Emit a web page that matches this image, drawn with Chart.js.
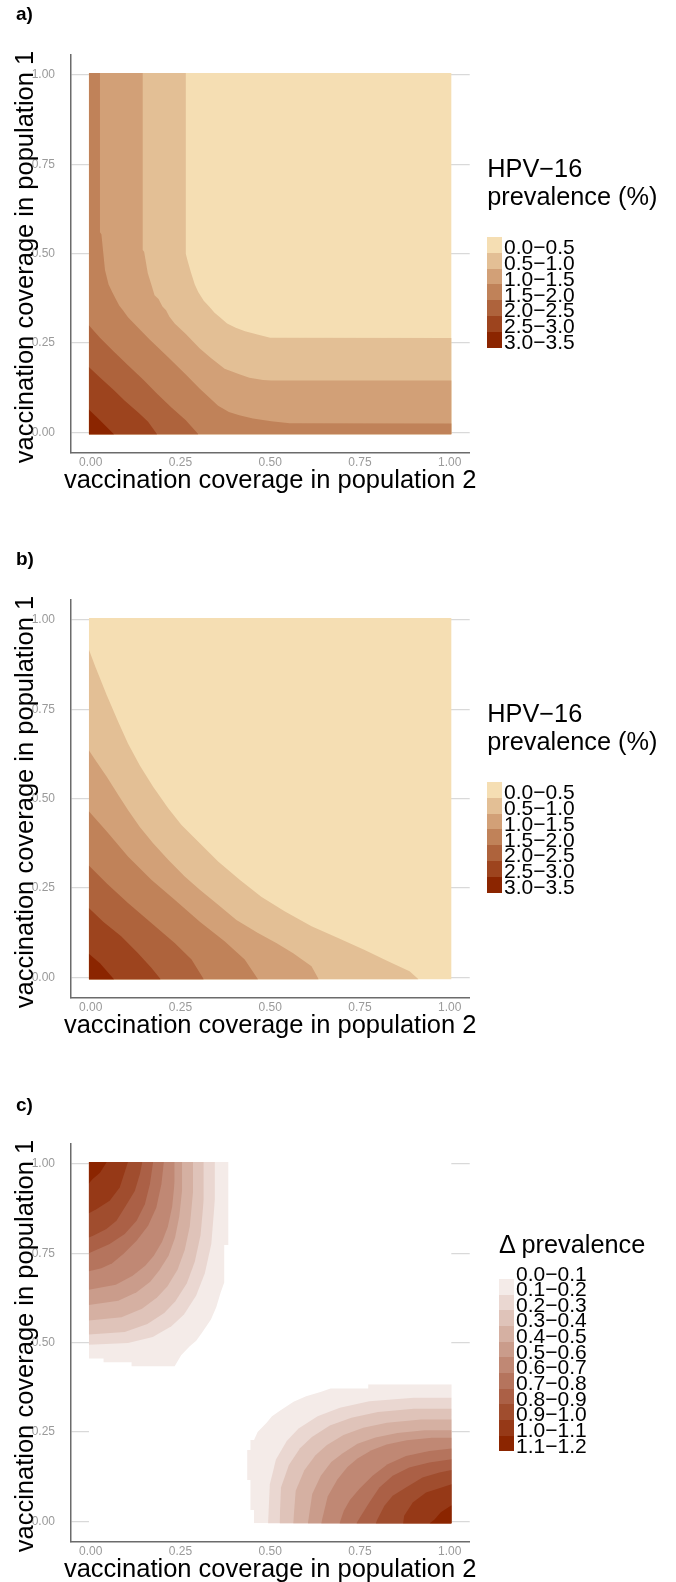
<!DOCTYPE html>
<html><head><meta charset="utf-8">
<script src="https://cdn.jsdelivr.net/npm/chart.js@4.4.1/dist/chart.umd.min.js"></script>
<style>
html,body{margin:0;padding:0;background:#fff;width:676px;height:1582px;overflow:hidden;font-family:'Liberation Sans',Arial,sans-serif;}
.panel{position:absolute;left:0;width:676px;height:545px;}
.panel canvas{position:absolute;left:0;top:0;}
.plab{position:absolute;left:16px;font-weight:bold;font-size:19px;line-height:20px;color:#000;}
.ltitle{position:absolute;font-size:25.3px;line-height:28.3px;white-space:nowrap;color:#000;}
.atitle{position:absolute;width:600px;height:30px;font-size:25.5px;line-height:30px;text-align:center;white-space:nowrap;color:#000;}
.key{position:absolute;}
.klab{position:absolute;font-size:21px;line-height:15.7px;white-space:nowrap;color:#000;}
</style>
</head><body>
<div id="root"></div>
<script>
// ---------- legend / axis text ----------
const tickValues = [0, 0.25, 0.5, 0.75, 1.0];
const tickLabels = ["0.00", "0.25", "0.50", "0.75", "1.00"];
const xTitle = "vaccination coverage in population 2";
const yTitle = "vaccination coverage in population 1";
const prevTitle = ["HPV\u221216", "prevalence (%)"];
const deltaTitle = ["\u0394 prevalence"];
const prevLabels = ["0.0\u22120.5","0.5\u22121.0","1.0\u22121.5","1.5\u22122.0","2.0\u22122.5","2.5\u22123.0","3.0\u22123.5"];
const prevColors = ["#f5deb3","#e3bf95","#d2a077","#c08259","#ae633c","#9d441e","#8b2500"];
const deltaLabels = ["0.0\u22120.1","0.1\u22120.2","0.2\u22120.3","0.3\u22120.4","0.4\u22120.5","0.5\u22120.6","0.6\u22120.7","0.7\u22120.8","0.8\u22120.9","0.9\u22121.0","1.0\u22121.1","1.1\u22121.2"];
const deltaColors = ["#ffffff","#f4ebe8","#ead7d1","#dfc3b9","#d5b0a2","#ca9c8b","#c08874","#b5745d","#ab6046","#a04d2e","#963917","#8b2500"];

// ---------- panel a: upper boundary of region with prevalence above each class break ----------
const aBand0 = [[-0.005,1.005],[1.005,1.005]];
const aBand1 = [[-0.005,1.005],[0.265,1.005],[0.265,0.50],[0.27,0.48],[0.28,0.445],[0.29,0.414],[0.30,0.392],[0.315,0.368],[0.33,0.352],[0.345,0.335],[0.36,0.322],[0.38,0.305],[0.404,0.293],[0.43,0.283],[0.467,0.273],[0.50,0.265],[1.005,0.264]];
const aBand2 = [[-0.005,1.005],[0.145,1.005],[0.145,0.51],[0.149,0.505],[0.159,0.446],[0.169,0.414],[0.178,0.384],[0.189,0.373],[0.20,0.352],[0.21,0.342],[0.219,0.324],[0.234,0.305],[0.265,0.275],[0.304,0.235],[0.335,0.208],[0.373,0.178],[0.414,0.163],[0.442,0.153],[0.48,0.147],[0.503,0.145],[1.005,0.145]];
const aBand3 = [[-0.005,1.005],[0.026,1.005],[0.026,0.56],[0.03,0.554],[0.04,0.454],[0.05,0.414],[0.06,0.393],[0.07,0.373],[0.08,0.354],[0.09,0.342],[0.104,0.322],[0.135,0.29],[0.165,0.259],[0.216,0.21],[0.265,0.162],[0.304,0.122],[0.334,0.094],[0.355,0.075],[0.385,0.057],[0.414,0.048],[0.452,0.039],[0.503,0.031],[0.554,0.026],[1.005,0.025]];
const aBand4 = [[-0.005,0.30],[0.026,0.265],[0.065,0.226],[0.104,0.188],[0.146,0.148],[0.185,0.108],[0.225,0.07],[0.265,0.034],[0.30,-0.005]];
const aBand5 = [[-0.005,0.183],[0.026,0.154],[0.065,0.118],[0.095,0.089],[0.135,0.054],[0.16,0.03],[0.185,-0.005]];
const aBand6 = [[-0.005,0.064],[0.026,0.034],[0.065,-0.005]];

// ---------- panel b ----------
const bBand0 = [[-0.005,1.005],[1.005,1.005]];
const bBand1 = [[-0.005,0.917],[0.014,0.867],[0.045,0.789],[0.077,0.714],[0.104,0.654],[0.137,0.593],[0.174,0.533],[0.216,0.473],[0.253,0.426],[0.304,0.375],[0.355,0.324],[0.415,0.273],[0.475,0.226],[0.540,0.185],[0.615,0.143],[0.689,0.110],[0.763,0.077],[0.828,0.045],[0.888,0.017],[0.913,-0.005]];
const bBand2 = [[-0.005,0.635],[0.014,0.607],[0.045,0.561],[0.077,0.510],[0.104,0.468],[0.137,0.421],[0.174,0.375],[0.216,0.329],[0.262,0.282],[0.304,0.245],[0.355,0.203],[0.406,0.161],[0.466,0.124],[0.517,0.096],[0.564,0.068],[0.615,0.031],[0.635,-0.005]];
const bBand3 = [[-0.005,0.465],[0.045,0.408],[0.104,0.338],[0.169,0.273],[0.234,0.217],[0.304,0.156],[0.373,0.101],[0.429,0.050],[0.466,-0.005]];
const bBand4 = [[-0.005,0.313],[0.045,0.263],[0.104,0.208],[0.169,0.152],[0.234,0.096],[0.281,0.050],[0.315,-0.005]];
const bBand5 = [[-0.005,0.194],[0.035,0.156],[0.085,0.115],[0.132,0.068],[0.169,0.027],[0.195,-0.005]];
const bBand6 = [[-0.005,0.066],[0.026,0.040],[0.065,-0.005]];

// ---------- panel c: background class and top-left blob (lower edge of each class) ----------
const cBand0 = [[-0.005,1.005],[1.005,1.005]];
const cTL1 = [[-0.005,0.456],[0.036,0.456],[0.036,0.445],[0.114,0.445],[0.114,0.434],[0.234,0.434],[0.252,0.465],[0.276,0.49],[0.294,0.505],[0.31,0.528],[0.335,0.565],[0.35,0.60],[0.362,0.64],[0.372,0.668],[0.372,0.773],[0.384,0.773],[0.384,1.005]];
const cTL2 = [[-0.005,0.494],[0.104,0.499],[0.173,0.516],[0.225,0.546],[0.26,0.579],[0.294,0.632],[0.318,0.694],[0.336,0.776],[0.346,0.9],[0.346,1.005]];
const cTL3 = [[-0.005,0.523],[0.095,0.53],[0.158,0.552],[0.205,0.583],[0.236,0.616],[0.268,0.666],[0.29,0.726],[0.306,0.80],[0.315,0.9],[0.315,1.005]];
const cTL4 = [[-0.005,0.562],[0.086,0.571],[0.143,0.595],[0.185,0.626],[0.214,0.658],[0.242,0.704],[0.262,0.759],[0.276,0.825],[0.285,0.92],[0.285,1.005]];
const cTL5 = [[-0.005,0.605],[0.077,0.617],[0.128,0.641],[0.166,0.67],[0.191,0.702],[0.217,0.743],[0.235,0.793],[0.247,0.854],[0.255,0.93],[0.255,1.005]];
const cTL6 = [[-0.005,0.648],[0.07,0.662],[0.117,0.687],[0.152,0.715],[0.176,0.743],[0.199,0.782],[0.215,0.824],[0.227,0.88],[0.234,0.95],[0.234,1.005]];
const cTL7 = [[-0.005,0.70],[0.03,0.708],[0.06,0.722],[0.091,0.748],[0.128,0.785],[0.16,0.827],[0.183,0.878],[0.197,0.943],[0.204,1.005]];
const cTL8 = [[-0.005,0.75],[0.053,0.776],[0.095,0.804],[0.128,0.841],[0.151,0.887],[0.165,0.943],[0.174,1.005]];
const cTL9 = [[-0.005,0.794],[0.007,0.799],[0.044,0.818],[0.072,0.841],[0.095,0.878],[0.123,0.924],[0.137,0.971],[0.144,1.005]];
const cTL10 = [[-0.005,0.862],[0.016,0.873],[0.053,0.897],[0.081,0.934],[0.104,1.005]];
const cTL11 = [[-0.005,0.945],[0.005,0.957],[0.026,0.975],[0.045,1.005]];
// ---------- panel c: bottom-right blob (left edge of outer class, upper edge of inner classes) ----------
const cBR1 = [[0.455,-0.005],[0.455,0.032],[0.445,0.032],[0.445,0.116],[0.436,0.116],[0.436,0.2],[0.445,0.2],[0.445,0.228],[0.455,0.228],[0.465,0.25],[0.49,0.276],[0.505,0.294],[0.528,0.31],[0.565,0.335],[0.60,0.35],[0.64,0.362],[0.668,0.372],[0.773,0.372],[0.773,0.384],[1.005,0.384]];
const cBR2 = [[0.494,-0.005],[0.499,0.104],[0.516,0.173],[0.546,0.225],[0.579,0.26],[0.632,0.294],[0.694,0.318],[0.776,0.336],[0.9,0.346],[1.005,0.346]];
const cBR3 = [[0.526,-0.005],[0.53,0.095],[0.552,0.158],[0.583,0.205],[0.616,0.236],[0.666,0.268],[0.726,0.29],[0.80,0.306],[0.9,0.315],[1.005,0.315]];
const cBR4 = [[0.564,-0.005],[0.571,0.086],[0.595,0.143],[0.626,0.185],[0.658,0.214],[0.704,0.242],[0.759,0.262],[0.825,0.276],[0.92,0.285],[1.005,0.285]];
const cBR5 = [[0.605,-0.005],[0.617,0.077],[0.641,0.128],[0.67,0.166],[0.702,0.191],[0.743,0.217],[0.793,0.235],[0.854,0.247],[0.93,0.255],[1.005,0.255]];
const cBR6 = [[0.642,-0.005],[0.66,0.07],[0.687,0.117],[0.715,0.152],[0.743,0.176],[0.782,0.199],[0.824,0.215],[0.88,0.227],[0.95,0.234],[1.005,0.234]];
const cBR7 = [[0.693,-0.005],[0.705,0.03],[0.722,0.06],[0.748,0.091],[0.785,0.128],[0.827,0.16],[0.878,0.183],[0.943,0.197],[1.005,0.204]];
const cBR8 = [[0.74,-0.005],[0.776,0.053],[0.804,0.095],[0.841,0.128],[0.887,0.151],[0.943,0.165],[1.005,0.174]];
const cBR9 = [[0.794,-0.005],[0.799,0.007],[0.818,0.044],[0.841,0.072],[0.878,0.095],[0.924,0.123],[0.971,0.137],[1.005,0.144]];
const cBR10 = [[0.87,-0.005],[0.873,0.016],[0.897,0.053],[0.934,0.081],[1.005,0.104]];
const cBR11 = [[0.944,-0.005],[0.957,0.005],[0.975,0.026],[1.005,0.045]];

// ---------- building ----------
const LO = -0.005, HI = 1.005;
function band(points, color, base, order, alongY) {
  const d = {
    data: points.map(p => ({x: p[0], y: p[1]})),
    showLine: true, tension: 0, pointRadius: 0, pointHoverRadius: 0,
    borderWidth: 0, borderColor: 'rgba(0,0,0,0)',
    backgroundColor: color, fill: {value: base}, order: order
  };
  if (alongY) d.indexAxis = 'y';
  return d;
}
function makeChart(canvas, datasets) {
  const fontFam = "'Liberation Sans', Arial, sans-serif";
  return new Chart(canvas, {
    type: 'scatter',
    data: {datasets},
    options: {
      responsive: false, animation: false, events: [],
      layout: {padding: {top: 55, right: 206.3, bottom: 51.2, left: 0}},
      plugins: {legend: {display: false}, tooltip: {enabled: false}},
      scales: {
        x: {
          type: 'linear', min: -0.0555, max: 1.0555,
          afterBuildTicks: s => { s.ticks = tickValues.map(v => ({value: v})); },
          afterFit: s => { s.height = 41.5; },
          grid: {display: false, drawTicks: false},
          border: {display: true, color: '#6b6b6b', width: 1.5},
          ticks: {padding: 3.5, color: '#9a9a9a', font: {family: fontFam, size: 12}, maxRotation: 0, autoSkip: false,
                  callback: (v, i) => tickLabels[i]},
          title: {display: false}
        },
        y: {
          type: 'linear', min: -0.0555, max: 1.0555,
          afterBuildTicks: s => { s.ticks = tickValues.map(v => ({value: v})); },
          afterFit: s => { s.width = 70.7; },
          grid: {display: true, drawTicks: false, color: '#d9d9d9', lineWidth: 1.2},
          border: {display: true, color: '#6b6b6b', width: 1.5},
          ticks: {padding: 15.7, color: '#9a9a9a', font: {family: fontFam, size: 12}, autoSkip: false,
                  callback: (v, i) => tickLabels[i]},
          title: {display: false}
        }
      }
    }
  });
}
function addDiv(parent, cls, text, styles) {
  const d = document.createElement('div');
  d.className = cls;
  if (text !== null) d.textContent = text;
  Object.assign(d.style, styles);
  parent.appendChild(d);
  return d;
}
function makePanel(top, label, datasets, titleLines, labels, colors, lg) {
  const root = document.getElementById('root');
  const p = addDiv(root, 'panel', null, {top: top + 'px'});
  const cv = document.createElement('canvas');
  cv.width = 676; cv.height = 545;
  p.appendChild(cv);
  addDiv(p, 'plab', label, {top: lg.labTop + 'px'});
  // axis titles
  addDiv(p, 'atitle', xTitle, {left: (270.2 - 300) + 'px', top: '463.5px'});
  addDiv(p, 'atitle', yTitle, {left: (24.2 - 300) + 'px', top: (257.0 - 15) + 'px', transform: 'rotate(-90deg)', transformOrigin: '300px 15px'});
  const t = addDiv(p, 'ltitle', null, {left: lg.x + 'px', top: lg.titleTop + 'px'});
  t.innerHTML = titleLines.join('<br>');
  labels.forEach((txt, i) => {
    addDiv(p, 'key', null, {left: lg.x + 'px', top: (lg.keyTop + i * lg.keyH) + 'px',
      width: lg.keyW + 'px', height: (lg.keyH + 0.3) + 'px', background: colors[i]});
    addDiv(p, 'klab', txt, {left: (lg.x + lg.keyW + 2) + 'px', top: (lg.keyTop + i * lg.keyH + 2.1) + 'px',
      lineHeight: lg.keyH + 'px'});
  });
  makeChart(cv, datasets);
}

const aSets = [aBand0, aBand1, aBand2, aBand3, aBand4, aBand5, aBand6]
  .map((b, k) => band(b, prevColors[k], LO, 10 - k));
const bSets = [bBand0, bBand1, bBand2, bBand3, bBand4, bBand5, bBand6]
  .map((b, k) => band(b, prevColors[k], LO, 10 - k));
const cTL = [cTL1, cTL2, cTL3, cTL4, cTL5, cTL6, cTL7, cTL8, cTL9, cTL10, cTL11];
const cBR = [cBR1, cBR2, cBR3, cBR4, cBR5, cBR6, cBR7, cBR8, cBR9, cBR10, cBR11];
const cSets = [band(cBand0, deltaColors[0], LO, 30)];
cTL.forEach((b, i) => cSets.push(band(b, deltaColors[i + 1], HI, 20 - i)));
cBR.forEach((b, i) => cSets.push(i === 0 ? band(b, deltaColors[1], HI, 20, true) : band(b, deltaColors[i + 1], LO, 20 - i)));

makePanel(0, 'a)', aSets, prevTitle, prevLabels, prevColors,
  {x: 487.3, titleTop: 153.8, keyTop: 237.3, keyH: 15.71, keyW: 14.7, labTop: 4.4});
makePanel(545, 'b)', bSets, prevTitle, prevLabels, prevColors,
  {x: 487.3, titleTop: 153.8, keyTop: 237.3, keyH: 15.71, keyW: 14.7, labTop: 4.4});
makePanel(1089, 'c)', cSets, deltaTitle, deltaLabels, deltaColors,
  {x: 499, titleTop: 141.4, keyTop: 174.4, keyH: 15.65, keyW: 15, labTop: 6});
</script>
</body></html>
